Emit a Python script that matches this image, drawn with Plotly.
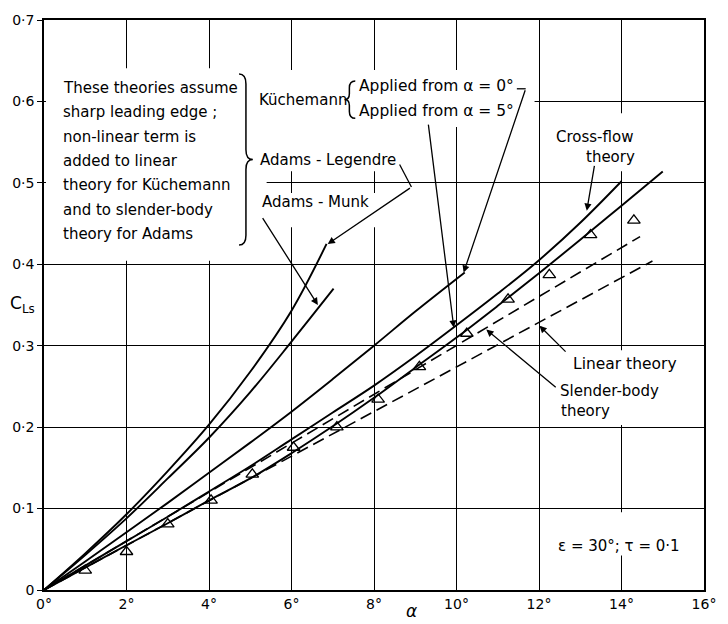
import plotly.graph_objects as go

# Lift coefficient C_Ls against incidence alpha (degrees), eps = 30 deg, tau = 0.1
alpha_adams_legendre = [0, 1, 2, 3, 4, 5, 6, 6.85]
cl_adams_legendre = [0, 0.045, 0.093, 0.146, 0.203, 0.268, 0.343, 0.425]

alpha_adams_munk = [0, 1, 2, 3, 4, 5, 6, 7.02]
cl_adams_munk = [0, 0.043, 0.088, 0.137, 0.187, 0.243, 0.305, 0.370]

alpha_kuch_0 = [0, 1, 2, 3, 4, 5, 6, 7, 8, 9, 10.2]
cl_kuch_0 = [0, 0.035, 0.071, 0.107, 0.144, 0.181, 0.219, 0.259, 0.300, 0.342, 0.390]

alpha_kuch_5 = [0, 1, 2, 3, 4, 5, 6, 7, 8, 9, 10, 11, 12, 13, 14, 15]
cl_kuch_5 = [0, 0.0275, 0.055, 0.082, 0.110, 0.137, 0.168, 0.201, 0.236, 0.273,
             0.310, 0.349, 0.389, 0.430, 0.472, 0.514]

alpha_cross_flow = [0, 1, 2, 3, 4, 5, 6, 7, 8, 9, 10, 11, 12, 13, 14]
cl_cross_flow = [0, 0.030, 0.060, 0.090, 0.121, 0.152, 0.185, 0.218, 0.251, 0.287,
                 0.325, 0.364, 0.405, 0.451, 0.502]

alpha_slender = [0, 14.45]
cl_slender = [0, 0.434]

alpha_linear = [0, 14.75]
cl_linear = [0, 0.404]

alpha_exp = [1.0, 2.0, 3.0, 4.05, 5.05, 6.05, 7.1, 8.1, 9.1, 10.25, 11.25, 12.25, 13.25, 14.3]
cl_exp = [0.024, 0.047, 0.081, 0.110, 0.142, 0.175, 0.200, 0.234, 0.274, 0.315,
          0.357, 0.387, 0.436, 0.454]

x_ticks = [0, 2, 4, 6, 8, 10, 12, 14, 16]
x_tick_text = ["0°", "2°", "4°", "6°", "8°", "10°", "12°", "14°", "16°"]
y_ticks = [0, 0.1, 0.2, 0.3, 0.4, 0.5, 0.6, 0.7]
y_tick_text = ["0", "0·1", "0·2", "0·3", "0·4", "0·5", "0·6", "0·7"]

W, H = 728, 624
ML, MR, MT, MB = 42, 16, 13, 31
X_MAX, Y_MAX = 16, 0.7
PW, PH = W - ML - MR, H - MT - MB


def dx(px):
    """page pixel column -> alpha"""
    return (px - ML) * X_MAX / PW


def dy(py):
    """page pixel row -> C_Ls"""
    return (H - MB - py) * Y_MAX / PH


FONT = "DejaVu Sans"
INK = "black"

fig = go.Figure()

solid = dict(color=INK, width=1.9, shape="spline")
dashed = dict(color=INK, width=1.6, dash="12px,6px")

for xs, ys in [(alpha_adams_legendre, cl_adams_legendre),
               (alpha_adams_munk, cl_adams_munk),
               (alpha_kuch_0, cl_kuch_0),
               (alpha_kuch_5, cl_kuch_5),
               (alpha_cross_flow, cl_cross_flow)]:
    fig.add_trace(go.Scatter(x=xs, y=ys, mode="lines", line=solid, hoverinfo="skip"))

for xs, ys in [(alpha_slender, cl_slender), (alpha_linear, cl_linear)]:
    fig.add_trace(go.Scatter(x=xs, y=ys, mode="lines", line=dashed, hoverinfo="skip"))

fig.add_trace(go.Scatter(
    x=alpha_exp, y=cl_exp, mode="markers",
    marker=dict(symbol="triangle-up-open", size=11, color=INK, line=dict(width=1.3)),
    hoverinfo="skip"))

shapes = []

# blank patches where the grid is left out behind the lettering (no curves run there)
for x0, x1, y0, y1 in [(44, 268, 62, 258), (268, 445, 64, 167), (445, 540, 64, 122),
                       (280, 385, 189, 224), (600, 660, 108, 167),
                       (560, 705, 349, 425), (590, 705, 514, 558)]:
    shapes.append(dict(type="rect", xref="x", yref="y", layer="above",
                       x0=dx(x0), x1=dx(x1), y0=dy(y1), y1=dy(y0),
                       fillcolor="white", line=dict(width=0)))


def path_px(points):
    cmds = []
    for cmd, pts in points:
        coords = " ".join(f"{dx(a):.4f},{dy(b):.5f}" for a, b in pts)
        cmds.append(f"{cmd} {coords}")
    return " ".join(cmds)


# large brace grouping the sharp-edge theories
big_brace = path_px([
    ("M", [(240, 68)]), ("Q", [(247, 68), (247, 78)]), ("L", [(247, 145)]),
    ("Q", [(247, 155), (254, 155)]), ("Q", [(247, 155), (247, 165)]),
    ("L", [(247, 232)]), ("Q", [(247, 242), (240, 242)]),
])
# small brace after "Küchemann"
small_brace = path_px([
    ("M", [(358, 75)]), ("Q", [(352, 75), (352, 82)]), ("L", [(352, 88)]),
    ("Q", [(352, 94), (347, 94)]), ("Q", [(352, 94), (352, 100)]),
    ("L", [(352, 106)]), ("Q", [(352, 113), (358, 113)]),
])
for p in (big_brace, small_brace):
    shapes.append(dict(type="path", xref="x", yref="y", path=p, layer="above",
                       line=dict(color=INK, width=1.5)))

# leader stubs
for (a0, b0), (a1, b1) in [((403, 160), (415, 183)), ((522, 83), (531, 83))]:
    shapes.append(dict(type="line", xref="x", yref="y", x0=dx(a0), y0=dy(b0),
                       x1=dx(a1), y1=dy(b1), layer="above",
                       line=dict(color=INK, width=1.3)))

annotations = []


def label(text, px, py, size=15, xanchor="left"):
    annotations.append(dict(text=text, x=dx(px), y=dy(py), xref="x", yref="y",
                            showarrow=False, xanchor=xanchor, yanchor="middle",
                            font=dict(family=FONT, size=size, color=INK)))


def arrow(tail, tip):
    annotations.append(dict(text="", x=dx(tip[0]), y=dy(tip[1]), xref="x", yref="y",
                            ax=dx(tail[0]), ay=dy(tail[1]), axref="x", ayref="y",
                            showarrow=True, arrowhead=2, arrowsize=1.1,
                            arrowwidth=1.3, arrowcolor=INK))


note_lines = ["These theories assume", "sharp leading edge ;", "non-linear term is",
              "added to linear", "theory for Küchemann", "and to slender-body",
              "theory for Adams"]
for i, t in enumerate(note_lines):
    label(t, 59, 82 + 24.8 * i)

label("Küchemann", 258, 94)
label("Applied from α = 0°", 360, 80, size=15.5)
label("Applied from α = 5°", 360, 106, size=15.5)
label("Adams - Legendre", 259, 155)
label("Adams - Munk", 261, 198)
label("Cross-flow", 601, 132, xanchor="center")
label("theory", 617, 152, xanchor="center")
label("Linear theory", 577, 363, size=15.5)
label("Slender-body", 564, 390)
label("theory", 565, 411)
label("ε = 30°; τ = 0·1", 562, 548)

arrow((415, 183), (330, 241))   # Adams - Legendre
arrow((263, 213), (320, 303))   # Adams - Munk
arrow((531, 83), (468, 270))    # Kuchemann from 0 deg
arrow((432, 118), (458, 326))   # Kuchemann from 5 deg
arrow((601, 160), (593, 207))   # cross-flow
arrow((573, 352), (545, 324))   # linear
arrow((563, 388), (491, 328))   # slender-body

# axis symbols
annotations.append(dict(text="C<sub>Ls</sub>", x=-37 / PW, y=dy(302), xref="paper", yref="y",
                        xanchor="left", yanchor="middle", showarrow=False,
                        font=dict(family=FONT, size=17, color=INK)))
annotations.append(dict(text="<i>α</i>", x=dx(415), y=-21 / PH, xref="x", yref="paper",
                        xanchor="center", yanchor="middle", showarrow=False,
                        font=dict(family=FONT, size=17, color=INK)))

axis_common = dict(showgrid=True, gridcolor=INK, gridwidth=1.2, zeroline=False,
                   showline=True, linecolor=INK, linewidth=1.6, mirror=True,
                   tickfont=dict(family=FONT, size=14, color=INK))

fig.update_layout(
    width=W, height=H,
    margin=dict(l=ML, r=MR, t=MT, b=MB, pad=0),
    paper_bgcolor="white", plot_bgcolor="white",
    showlegend=False,
    xaxis=dict(range=[0, X_MAX], tickvals=x_ticks, ticktext=x_tick_text, **axis_common),
    yaxis=dict(range=[0, Y_MAX], tickvals=y_ticks, ticktext=y_tick_text,
               ticks="outside", ticklen=5, tickcolor=INK, **axis_common),
    shapes=shapes,
    annotations=annotations,
)

fig.write_html("out.html")
